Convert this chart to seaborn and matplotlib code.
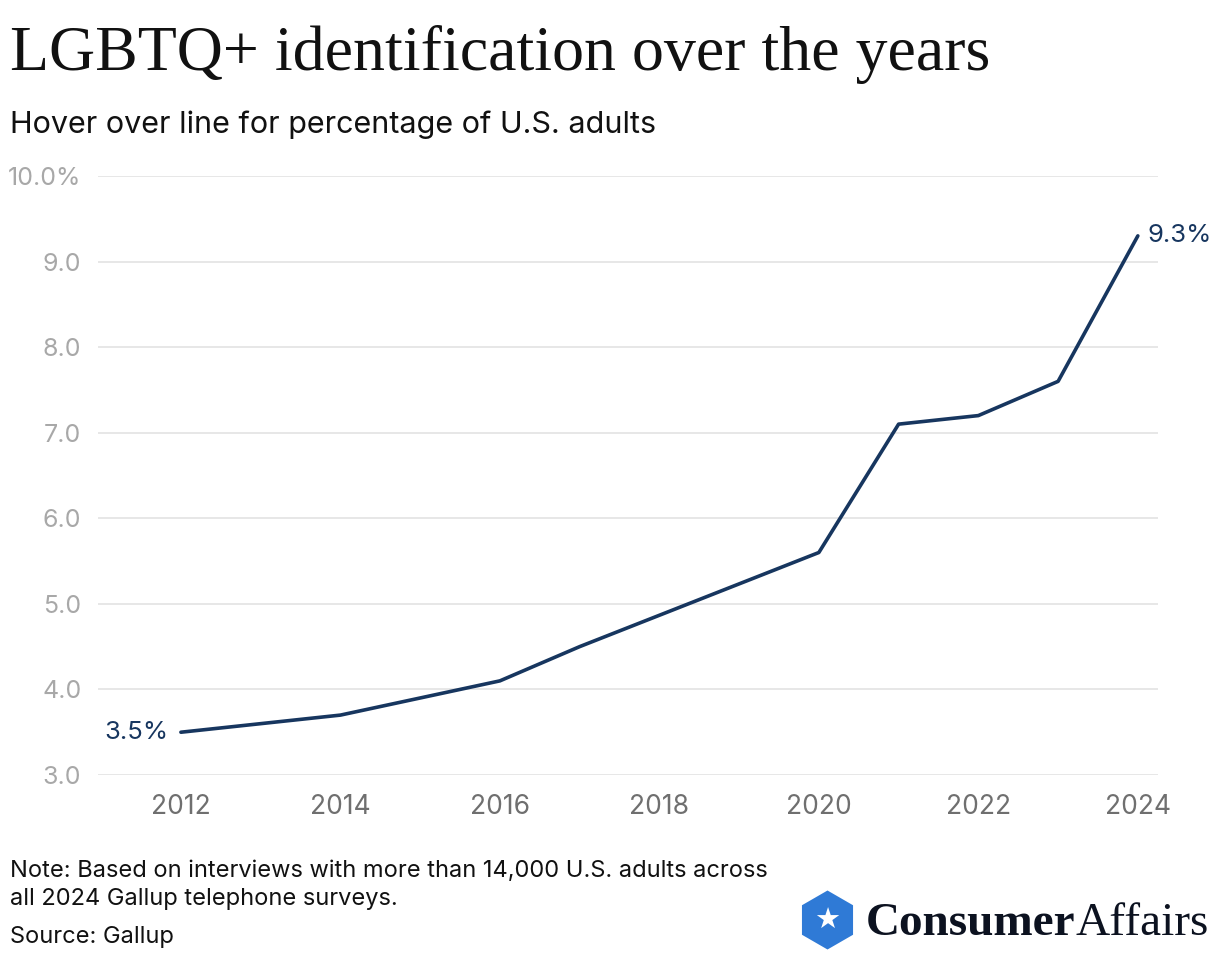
import matplotlib.pyplot as plt
import matplotlib.patches as mpatches
import numpy as np
import pandas as pd
import seaborn as sns

years = [2012, 2013, 2014, 2015, 2016, 2017, 2020, 2021, 2022, 2023, 2024]
share = [3.5, 3.6, 3.7, 3.9, 4.1, 4.5, 5.6, 7.1, 7.2, 7.6, 9.3]
xticks = [2012, 2014, 2016, 2018, 2020, 2022, 2024]
yticks = [3, 4, 5, 6, 7, 8, 9, 10]
ytick_labels = ["3.0", "4.0", "5.0", "6.0", "7.0", "8.0", "9.0", "10.0%"]

NAVY = "#17365f"
df = pd.DataFrame({"year": years, "share": share})

sns.set_style("white")
plt.rcParams["font.family"] = ["Inter", "DejaVu Sans"]

fig = plt.figure(figsize=(12.2, 9.6), dpi=100)
ax = fig.add_axes([0.0803, 0.1927, 0.8687, 0.624])

sns.lineplot(data=df, x="year", y="share", ax=ax, color=NAVY, linewidth=2.6)

ax.set_xlim(2010.96, 2024.25)
ax.set_ylim(3, 10)
ax.set_xticks(xticks)
ax.set_xticklabels([str(x) for x in xticks])
ax.set_yticks(yticks)
ax.set_yticklabels(ytick_labels)
ax.tick_params(axis="y", labelsize=18, colors="#a8a8a8", length=0, pad=12)
ax.tick_params(axis="x", labelsize=19, colors="#6f6f6f", length=0, pad=14)
ax.yaxis.grid(True, color="#e3e3e3", lw=1.2)
ax.xaxis.grid(False)
for s in ax.spines.values():
    s.set_visible(False)
ax.set_xlabel("")
ax.set_ylabel("")

# end labels
ax.text(years[0] - 0.15, share[0], f"{share[0]}%", ha="right", va="center",
        fontsize=18.5, color=NAVY)
ax.text(years[-1] + 0.12, share[-1], f"{share[-1]}%", ha="left", va="center",
        fontsize=18.5, color=NAVY)

fig.text(0.008, 1 - 70 / 960, "LGBTQ+ identification over the years", fontsize=46,
         family="Liberation Serif", ha="left", va="baseline", color="#111111")
fig.text(0.008, 1 - 133 / 960, "Hover over line for percentage of U.S. adults", fontsize=22,
         ha="left", va="baseline", color="#111111")

fig.text(0.008, 1 - 877 / 960, "Note: Based on interviews with more than 14,000 U.S. adults across",
         fontsize=17, ha="left", va="baseline", color="#111111")
fig.text(0.008, 1 - 905 / 960, "all 2024 Gallup telephone surveys.",
         fontsize=17, ha="left", va="baseline", color="#111111")
fig.text(0.008, 1 - 943 / 960, "Source: Gallup", fontsize=17, ha="left", va="baseline", color="#111111")

# logo
hexagon = mpatches.RegularPolygon((8.275, 9.6 - 9.2), numVertices=6, radius=0.295,
                                  orientation=0, transform=fig.dpi_scale_trans,
                                  facecolor="#2f7ad6", edgecolor="none")
fig.add_artist(hexagon)
fig.text(827.5 / 1220, 1 - 921 / 960, "\u2605", fontsize=21, color="white", ha="center", va="center",
         family="DejaVu Sans")
t1 = fig.text(866 / 1220, 1 - 935 / 960, "Consumer", fontsize=34, weight="black",
              family="Liberation Serif", color="#0c1220", ha="left", va="baseline")
fig.canvas.draw()
bb = t1.get_window_extent()
fig.text(bb.x1 / fig.bbox.width, 1 - 935 / 960, "Affairs", fontsize=34,
         family="Liberation Serif", color="#0c1220", ha="left", va="baseline")

fig.savefig("out.png", dpi=100)
